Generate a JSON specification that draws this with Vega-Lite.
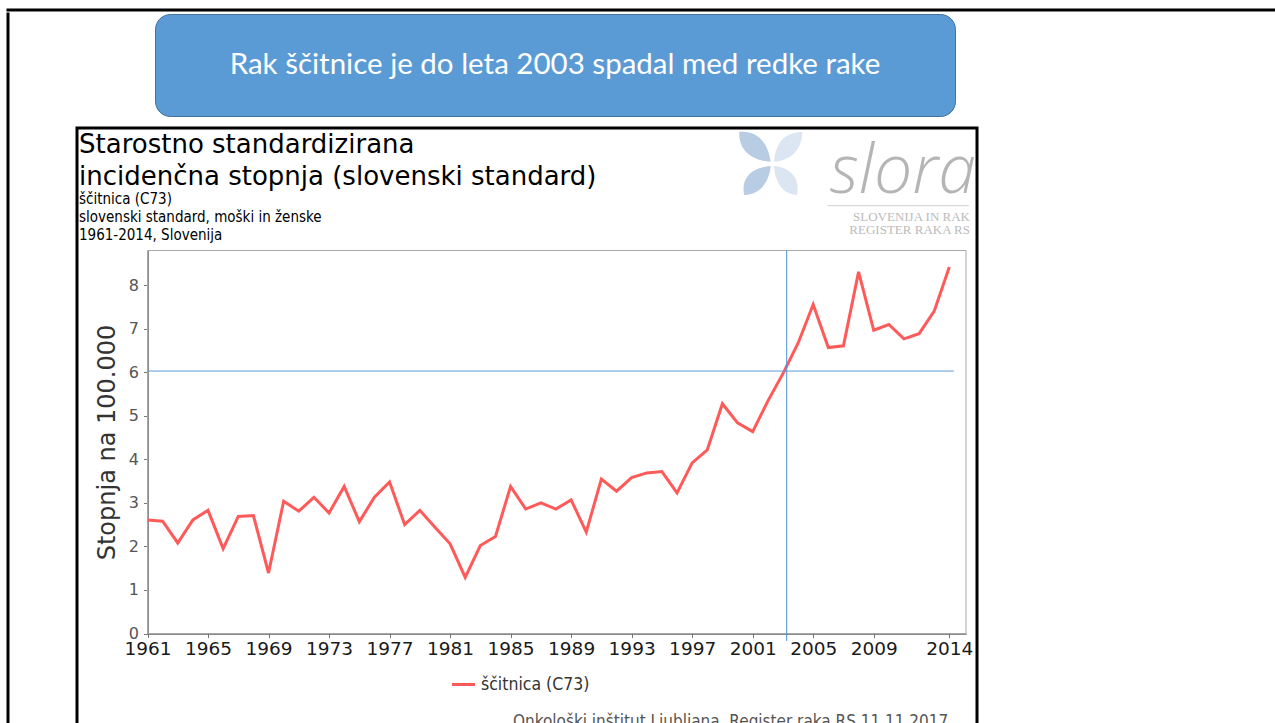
{
  "$schema": "https://vega.github.io/schema/vega-lite/v6.json",
  "padding": {"left": 6, "top": 8, "right": 0, "bottom": 0},
  "background": "white",
  "spacing": 0,
  "config": {
    "view": {"stroke": null},
    "axis": {"grid": false},
    "text": {"font": "DejaVu Sans"}
  },
  "datasets": {
    "incidenca": [
      {"leto": 1961, "stopnja": 2.61, "serija": "ščitnica (C73)"},
      {"leto": 1962, "stopnja": 2.58, "serija": "ščitnica (C73)"},
      {"leto": 1963, "stopnja": 2.08, "serija": "ščitnica (C73)"},
      {"leto": 1964, "stopnja": 2.61, "serija": "ščitnica (C73)"},
      {"leto": 1965, "stopnja": 2.83, "serija": "ščitnica (C73)"},
      {"leto": 1966, "stopnja": 1.95, "serija": "ščitnica (C73)"},
      {"leto": 1967, "stopnja": 2.69, "serija": "ščitnica (C73)"},
      {"leto": 1968, "stopnja": 2.71, "serija": "ščitnica (C73)"},
      {"leto": 1969, "stopnja": 1.39, "serija": "ščitnica (C73)"},
      {"leto": 1970, "stopnja": 3.04, "serija": "ščitnica (C73)"},
      {"leto": 1971, "stopnja": 2.81, "serija": "ščitnica (C73)"},
      {"leto": 1972, "stopnja": 3.13, "serija": "ščitnica (C73)"},
      {"leto": 1973, "stopnja": 2.77, "serija": "ščitnica (C73)"},
      {"leto": 1974, "stopnja": 3.38, "serija": "ščitnica (C73)"},
      {"leto": 1975, "stopnja": 2.57, "serija": "ščitnica (C73)"},
      {"leto": 1976, "stopnja": 3.13, "serija": "ščitnica (C73)"},
      {"leto": 1977, "stopnja": 3.48, "serija": "ščitnica (C73)"},
      {"leto": 1978, "stopnja": 2.50, "serija": "ščitnica (C73)"},
      {"leto": 1979, "stopnja": 2.83, "serija": "ščitnica (C73)"},
      {"leto": 1980, "stopnja": 2.44, "serija": "ščitnica (C73)"},
      {"leto": 1981, "stopnja": 2.06, "serija": "ščitnica (C73)"},
      {"leto": 1982, "stopnja": 1.29, "serija": "ščitnica (C73)"},
      {"leto": 1983, "stopnja": 2.02, "serija": "ščitnica (C73)"},
      {"leto": 1984, "stopnja": 2.23, "serija": "ščitnica (C73)"},
      {"leto": 1985, "stopnja": 3.38, "serija": "ščitnica (C73)"},
      {"leto": 1986, "stopnja": 2.86, "serija": "ščitnica (C73)"},
      {"leto": 1987, "stopnja": 3.00, "serija": "ščitnica (C73)"},
      {"leto": 1988, "stopnja": 2.86, "serija": "ščitnica (C73)"},
      {"leto": 1989, "stopnja": 3.07, "serija": "ščitnica (C73)"},
      {"leto": 1990, "stopnja": 2.33, "serija": "ščitnica (C73)"},
      {"leto": 1991, "stopnja": 3.55, "serija": "ščitnica (C73)"},
      {"leto": 1992, "stopnja": 3.27, "serija": "ščitnica (C73)"},
      {"leto": 1993, "stopnja": 3.58, "serija": "ščitnica (C73)"},
      {"leto": 1994, "stopnja": 3.69, "serija": "ščitnica (C73)"},
      {"leto": 1995, "stopnja": 3.72, "serija": "ščitnica (C73)"},
      {"leto": 1996, "stopnja": 3.23, "serija": "ščitnica (C73)"},
      {"leto": 1997, "stopnja": 3.92, "serija": "ščitnica (C73)"},
      {"leto": 1998, "stopnja": 4.22, "serija": "ščitnica (C73)"},
      {"leto": 1999, "stopnja": 5.28, "serija": "ščitnica (C73)"},
      {"leto": 2000, "stopnja": 4.84, "serija": "ščitnica (C73)"},
      {"leto": 2001, "stopnja": 4.64, "serija": "ščitnica (C73)"},
      {"leto": 2002, "stopnja": 5.34, "serija": "ščitnica (C73)"},
      {"leto": 2003, "stopnja": 5.97, "serija": "ščitnica (C73)"},
      {"leto": 2004, "stopnja": 6.67, "serija": "ščitnica (C73)"},
      {"leto": 2005, "stopnja": 7.56, "serija": "ščitnica (C73)"},
      {"leto": 2006, "stopnja": 6.57, "serija": "ščitnica (C73)"},
      {"leto": 2007, "stopnja": 6.61, "serija": "ščitnica (C73)"},
      {"leto": 2008, "stopnja": 8.31, "serija": "ščitnica (C73)"},
      {"leto": 2009, "stopnja": 6.97, "serija": "ščitnica (C73)"},
      {"leto": 2010, "stopnja": 7.10, "serija": "ščitnica (C73)"},
      {"leto": 2011, "stopnja": 6.77, "serija": "ščitnica (C73)"},
      {"leto": 2012, "stopnja": 6.89, "serija": "ščitnica (C73)"},
      {"leto": 2013, "stopnja": 7.41, "serija": "ščitnica (C73)"},
      {"leto": 2014, "stopnja": 8.42, "serija": "ščitnica (C73)"}
    ],
    "naslov": [{"besedilo": "Rak ščitnice je do leta 2003 spadal med redke rake"}],
    "prazno": [],
    "ena": [{}],
    "logo": [{"ime": "slora"}],
    "logo2": [{"vrstica": "SLOVENIJA IN RAK"}],
    "logo3": [{"vrstica": "REGISTER RAKA RS"}],
    "vir": [{"besedilo": "Onkološki inštitut Ljubljana, Register raka RS 11.11.2017"}]
  },
  "vconcat": [
    {
      "width": 1290,
      "height": 0.01,
      "view": {"stroke": "#000000", "strokeWidth": 3, "fill": null},
      "data": {"name": "prazno"},
      "mark": "point"
    },
    {
      "spacing": 65,
      "hconcat": [
        {
          "width": 0.01,
          "height": 720,
          "view": {"stroke": "#000000", "strokeWidth": 3, "fill": null},
          "data": {"name": "prazno"},
          "mark": "point"
        },
        {
          "spacing": 9,
          "vconcat": [
            {
              "spacing": 0,
              "hconcat": [
                {
                  "width": 77,
                  "height": 1,
                  "data": {"name": "prazno"},
                  "mark": "point"
                },
                {
                  "width": 800,
                  "height": 102,
                  "view": {"fill": "#5b9bd5", "stroke": "#41719c", "strokeWidth": 1, "cornerRadius": 15},
                  "data": {"name": "naslov"},
                  "mark": {"type": "text", "font": "Lato", "fontSize": 29.5, "color": "#ffffff", "baseline": "middle", "align": "center"},
                  "encoding": {"text": {"field": "besedilo"}}
                }
              ]
            },
            {
              "width": 900,
              "height": 615,
              "view": {"stroke": "#000000", "strokeWidth": 3, "fill": "#ffffff"},
              "title": {
                "text": ["Starostno standardizirana", "incidenčna stopnja (slovenski standard)"],
                "subtitle": ["ščitnica  (C73)", "slovenski standard, moški in ženske", "1961-2014, Slovenija"],
                "anchor": "start",
                "frame": "group",
                "orient": "top",
                "offset": -115,
                "dx": 2,
                "font": "DejaVu Sans",
                "fontSize": 26,
                "fontWeight": "normal",
                "color": "#000000",
                "lineHeight": 32,
                "subtitleFont": "DejaVu Sans Condensed, Liberation Sans Narrow, DejaVu Sans",
                "subtitleFontSize": 15,
                "subtitleColor": "#000000",
                "subtitleLineHeight": 18,
                "subtitlePadding": 2
              },
              "layer": [
                {
                  "data": {"name": "ena"},
                  "mark": {"type": "rect", "fill": null, "stroke": "#a8a8a8", "strokeWidth": 1},
                  "encoding": {
                    "x": {"datum": 1961},
                    "x2": {"datum": 2015.1},
                    "y": {"datum": 0},
                    "y2": {"datum": 8.8}
                  }
                },
                {
                  "data": {"name": "incidenca"},
                  "mark": {"type": "line", "strokeWidth": 3},
                  "encoding": {
                    "x": {
                      "field": "leto",
                      "type": "quantitative",
                      "scale": {"domain": [1961, 2015.1], "range": [70.5, 889], "nice": false, "zero": false},
                      "axis": {
                        "orient": "bottom",
                        "offset": -109.5,
                        "values": [1961, 1965, 1969, 1973, 1977, 1981, 1985, 1989, 1993, 1997, 2001, 2005, 2009, 2014],
                        "format": "d",
                        "title": null,
                        "labelFont": "DejaVu Sans",
                        "labelFontSize": 18.5,
                        "labelColor": "#1a1a1a",
                        "labelPadding": 2,
                        "labelFlush": false,
                        "labelOverlap": false,
                        "tickSize": 4,
                        "tickColor": "#777777",
                        "domainColor": "#666666",
                        "domainWidth": 1.5
                      }
                    },
                    "y": {
                      "field": "stopnja",
                      "type": "quantitative",
                      "scale": {"domain": [0, 8.8], "range": [505.5, 122.5], "nice": false},
                      "axis": {
                        "orient": "left",
                        "offset": -70.5,
                        "values": [0, 1, 2, 3, 4, 5, 6, 7, 8],
                        "format": "d",
                        "title": "Stopnja na 100.000",
                        "titleFont": "DejaVu Sans",
                        "titleFontSize": 24,
                        "titleFontWeight": "normal",
                        "titleColor": "#333333",
                        "titlePadding": 9,
                        "labelFont": "DejaVu Sans",
                        "labelFontSize": 16,
                        "labelColor": "#555555",
                        "labelPadding": 5,
                        "tickSize": 4,
                        "tickColor": "#777777",
                        "domainColor": "#666666",
                        "domainWidth": 1.5
                      }
                    },
                    "color": {
                      "field": "serija",
                      "type": "nominal",
                      "scale": {"domain": ["ščitnica (C73)"], "range": ["#ff5a5a"]},
                      "legend": {
                        "orient": "none",
                        "legendX": 442,
                        "legendY": 661,
                        "title": null,
                        "padding": 0,
                        "symbolType": "stroke",
                        "symbolSize": 530,
                        "symbolStrokeWidth": 3,
                        "labelFont": "DejaVu Sans Condensed, Liberation Sans Narrow, DejaVu Sans",
                        "labelFontSize": 17.5,
                        "labelColor": "#333333",
                        "labelOffset": 4
                      }
                    }
                  }
                },
                {
                  "data": {"name": "ena"},
                  "mark": {"type": "rule", "color": "#4a90d9", "strokeWidth": 1},
                  "encoding": {
                    "x": {"datum": 2003.25},
                    "y": {"datum": 8.8},
                    "y2": {"datum": -0.17}
                  }
                },
                {
                  "data": {"name": "ena"},
                  "mark": {"type": "rule", "color": "#5b9bd5", "strokeWidth": 1},
                  "encoding": {
                    "x": {"datum": 1961},
                    "x2": {"datum": 2014.3},
                    "y": {"datum": 6.03}
                  }
                },
                {
                  "data": {"name": "ena"},
                  "mark": {"type": "point", "filled": true, "color": "#b8cce4", "opacity": 1, "size": 4400,
                    "shape": "M-0.05,-0.05 C-0.15,-0.75 -0.55,-1 -1,-0.95 C-1.02,-0.45 -0.7,-0.1 -0.05,-0.05 Z M-0.05,0.08 C-0.65,0.12 -0.95,0.45 -0.85,0.95 C-0.4,0.95 -0.1,0.6 -0.05,0.08 Z"},
                  "encoding": {
                    "x": {"datum": 2002.3},
                    "y": {"datum": 10.8}
                  }
                },
                {
                  "data": {"name": "ena"},
                  "mark": {"type": "point", "filled": true, "color": "#dce6f2", "opacity": 1, "size": 4400,
                    "shape": "M0.05,-0.05 C0.1,-0.7 0.45,-0.95 0.9,-0.95 C0.9,-0.45 0.6,-0.1 0.05,-0.05 Z M0.05,0.08 C0.55,0.12 0.85,0.45 0.75,0.95 C0.35,0.95 0.08,0.6 0.05,0.08 Z"},
                  "encoding": {
                    "x": {"datum": 2002.3},
                    "y": {"datum": 10.8}
                  }
                },
                {
                  "data": {"name": "logo"},
                  "mark": {"type": "text", "font": "Open Sans", "fontStyle": "italic", "fontWeight": 300, "fontSize": 68, "color": "#b5b5b5", "align": "right", "baseline": "alphabetic", "dx": 10},
                  "encoding": {
                    "x": {"datum": 2015.1},
                    "y": {"datum": 10.11},
                    "text": {"field": "ime"}
                  }
                },
                {
                  "data": {"name": "ena"},
                  "mark": {"type": "rule", "color": "#d0d0d0", "strokeWidth": 1},
                  "encoding": {
                    "x": {"datum": 2005.94},
                    "x2": {"datum": 2015.3},
                    "y": {"datum": 9.83}
                  }
                },
                {
                  "data": {"name": "logo2"},
                  "mark": {"type": "text", "font": "Liberation Serif", "fontSize": 13, "color": "#bbbbbb", "align": "right", "baseline": "alphabetic", "dx": 4},
                  "encoding": {
                    "x": {"datum": 2015.1},
                    "y": {"datum": 9.47},
                    "text": {"field": "vrstica"}
                  }
                },
                {
                  "data": {"name": "logo3"},
                  "mark": {"type": "text", "font": "Liberation Serif", "fontSize": 13, "color": "#bbbbbb", "align": "right", "baseline": "alphabetic", "dx": 4},
                  "encoding": {
                    "x": {"datum": 2015.1},
                    "y": {"datum": 9.17},
                    "text": {"field": "vrstica"}
                  }
                },
                {
                  "data": {"name": "vir"},
                  "mark": {"type": "text", "font": "DejaVu Sans Condensed, Liberation Sans Narrow, DejaVu Sans", "fontSize": 17, "color": "#555555", "align": "right", "baseline": "alphabetic"},
                  "encoding": {
                    "x": {"datum": 2013.93},
                    "y": {"datum": -2.14},
                    "text": {"field": "besedilo"}
                  }
                }
              ]
            }
          ]
        }
      ]
    }
  ]
}
